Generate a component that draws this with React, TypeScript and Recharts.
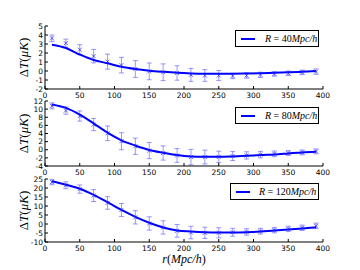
import React from "react";
import { ComposedChart, Line, Scatter, ErrorBar, XAxis, YAxis, Legend } from "recharts";

const radius = [10, 30, 50, 70, 90, 110, 130, 150, 170, 190, 210, 230, 250, 270, 290, 310, 330, 350, 370, 390];

// R = 40 Mpc/h
const obs40 = [3.63, 3.09, 2.37, 1.65, 1.04, 0.65, 0.22, -0.04, -0.14, -0.22, -0.43, -0.5, -0.5, -0.55, -0.5, -0.43, -0.32, -0.25, -0.15, -0.07];
const err40 = [0.37, 0.45, 0.55, 0.75, 0.83, 0.87, 0.93, 0.93, 0.93, 0.8, 0.72, 0.65, 0.55, 0.3, 0.3, 0.3, 0.25, 0.25, 0.25, 0.3];
const model40 = [2.91, 2.55, 1.83, 1.22, 0.86, 0.47, 0.22, 0.04, -0.09, -0.2, -0.27, -0.3, -0.3, -0.3, -0.28, -0.25, -0.2, -0.15, -0.08, 0.0];

// R = 80 Mpc/h
const obs80 = [10.8, 9.65, 8.3, 6.2, 4.05, 2.1, 0.86, -0.2, -0.8, -1.4, -1.8, -1.8, -1.75, -1.55, -1.4, -1.2, -1.0, -0.8, -0.65, -0.4];
const err80 = [0.75, 0.9, 1.25, 1.5, 1.8, 2.1, 2.0, 2.0, 1.75, 1.7, 1.9, 1.7, 1.4, 1.1, 0.9, 0.8, 0.7, 0.6, 0.6, 0.6];
const model80 = [11.15, 10.3, 8.65, 6.5, 4.2, 2.3, 1.03, -0.05, -0.73, -1.3, -1.65, -1.75, -1.75, -1.65, -1.5, -1.3, -1.15, -0.9, -0.65, -0.5];

// R = 120 Mpc/h
const obs120 = [23.3, 21.5, 19.4, 15.8, 11.7, 7.8, 3.7, 0.3, -1.9, -3.8, -4.75, -4.9, -4.9, -4.6, -4.4, -4.0, -3.4, -2.7, -2.1, -1.0];
const err120 = [1.5, 1.9, 2.3, 3.3, 3.5, 3.6, 3.7, 3.7, 3.7, 3.5, 3.5, 3.1, 2.8, 2.2, 1.8, 1.6, 1.5, 1.5, 1.5, 1.5];
const model120 = [23.7, 21.8, 19.6, 16.2, 12.1, 7.8, 4.0, 0.7, -1.9, -3.6, -4.2, -4.6, -4.75, -4.75, -4.6, -4.2, -3.6, -3.1, -2.5, -1.8];

const xTicks = [0, 50, 100, 150, 200, 250, 300, 350, 400];
const yTicks40 = [-2, -1, 0, 1, 2, 3, 4, 5];
const yTicks80 = [-4, -2, 0, 2, 4, 6, 8, 10, 12];
const yTicks120 = [-10, -5, 0, 5, 10, 15, 20, 25];

const TICK_FONT = "'DejaVu Sans', sans-serif";
const MATH_FONT = "'Liberation Serif', serif";

const build = (obs: number[], err: number[], model: number[]) =>
  radius.map((r, i) => ({ r, obs: obs[i], err: err[i], model: model[i] }));

const XMarker = ({ cx, cy }: any) => (
  <g stroke="rgba(40,40,255,0.7)" strokeWidth={1}>
    <line x1={cx - 2} y1={cy - 2} x2={cx + 2} y2={cy + 2} />
    <line x1={cx - 2} y1={cy + 2} x2={cx + 2} y2={cy - 2} />
  </g>
);

const bottomTick = (p: any) => (
  <g>
    <line x1={p.x} y1={p.y} x2={p.x} y2={p.y - 3} stroke="#000" />
    <text x={p.x} y={p.y + 9} textAnchor="middle" fontSize={7.5} fontFamily={TICK_FONT} fill="#000">
      {p.payload.value}
    </text>
  </g>
);
const topTick = (p: any) => <line x1={p.x} y1={p.y} x2={p.x} y2={p.y + 3} stroke="#000" />;
const leftTick = (p: any) => (
  <g>
    <line x1={p.x} y1={p.y} x2={p.x + 3} y2={p.y} stroke="#000" />
    <text x={p.x - 2} y={p.y} dy="0.35em" textAnchor="end" fontSize={7.5} fontFamily={TICK_FONT} fill="#000">
      {p.payload.value}
    </text>
  </g>
);
const rightTick = (p: any) => <line x1={p.x} y1={p.y} x2={p.x - 3} y2={p.y} stroke="#000" />;

const yLabel = (p: any) => {
  const vb = p.viewBox;
  const cx = vb.x + 23;
  const cy = vb.y + vb.height / 2;
  return (
    <text transform={`translate(${cx},${cy}) rotate(-90)`} textAnchor="middle" dominantBaseline="central" fontSize={13} fontFamily={MATH_FONT} fill="#000">
      Δ<tspan fontStyle="italic">T</tspan>(<tspan fontStyle="italic">μK</tspan>)
    </text>
  );
};

const xLabel = (p: any) => {
  const vb = p.viewBox;
  return (
    <text x={vb.x + vb.width / 2} y={vb.y + 20.5} textAnchor="middle" fontSize={12} fontFamily={MATH_FONT} fill="#000">
      <tspan fontStyle="italic">r</tspan>(<tspan fontStyle="italic">Mpc/h</tspan>)
    </text>
  );
};

type PanelProps = {
  top: number;
  height: number;
  marginTop: number;
  axisHeight: number;
  data: any[];
  yTicks: number[];
  radiusLabel: string;
  legendTop: number;
  legendLeft: number;
  legendWidth: number;
  textLeft: number;
  showXLabel?: boolean;
};

function Panel(props: PanelProps) {
  const { data, yTicks } = props;
  const domain: [number, number] = [yTicks[0], yTicks[yTicks.length - 1]];
  const legendContent = () => (
    <div style={{ width: props.legendWidth, height: 17, boxSizing: "border-box", border: "1px solid #000", background: "#fff", position: "relative" }}>
      <div style={{ position: "absolute", left: 5, top: 7, width: 14, height: 2, background: "#0000ff" }} />
      <span style={{ position: "absolute", left: props.textLeft, top: 1, fontFamily: MATH_FONT, fontSize: 10, whiteSpace: "nowrap", lineHeight: "13px" }}>
        <i>R</i> = {props.radiusLabel}<i>Mpc/h</i>
      </span>
    </div>
  );
  return (
    <div style={{ position: "absolute", left: 0, top: props.top }}>
      <ComposedChart width={360} height={props.height} data={data} margin={{ top: props.marginTop, right: 37, bottom: 0, left: 0 }}>
        <XAxis xAxisId="bottom" dataKey="r" type="number" domain={[0, 400]} ticks={xTicks} interval={0}
          height={props.axisHeight} tickSize={0} tickMargin={0} tickLine={false} tick={bottomTick}
          axisLine={{ stroke: "#000" }} label={props.showXLabel ? xLabel : undefined} />
        <XAxis xAxisId="top" orientation="top" dataKey="r" type="number" domain={[0, 400]} ticks={xTicks} interval={0}
          height={0} tickSize={0} tickMargin={0} tickLine={false} tick={topTick} axisLine={{ stroke: "#000" }} />
        <YAxis yAxisId="left" type="number" domain={domain} ticks={yTicks} interval={0} width={45}
          tickSize={0} tickMargin={0} tickLine={false} tick={leftTick} axisLine={{ stroke: "#000" }} label={yLabel} />
        <YAxis yAxisId="right" orientation="right" type="number" domain={domain} ticks={yTicks} interval={0} width={0}
          tickSize={0} tickMargin={0} tickLine={false} tick={rightTick} axisLine={{ stroke: "#000" }} />
        <Scatter xAxisId="bottom" yAxisId="left" dataKey="obs" shape={XMarker} isAnimationActive={false}>
          <ErrorBar dataKey="err" direction="y" width={2.5} stroke="rgba(70,70,255,0.55)" strokeWidth={1} />
        </Scatter>
        <Line xAxisId="bottom" yAxisId="left" dataKey="model" type="monotone" stroke="#0000ff" strokeWidth={2}
          dot={false} activeDot={false} isAnimationActive={false} />
        <Legend layout="horizontal" verticalAlign="middle" align="center" content={legendContent}
          wrapperStyle={{ top: props.legendTop, left: props.legendLeft, width: props.legendWidth, height: 17 }} />
      </ComposedChart>
    </div>
  );
}

export default function App() {
  return (
    <div style={{ position: "absolute", left: 0, top: 0, width: 360, height: 270, background: "#fff", overflow: "hidden" }}>
      <Panel top={0} height={100} marginTop={26} axisHeight={11} data={build(obs40, err40, model40)} yTicks={yTicks40}
        radiusLabel="40" legendTop={30} legendLeft={235} legendWidth={84} textLeft={29} />
      <Panel top={90} height={87} marginTop={11} axisHeight={11} data={build(obs80, err80, model80)} yTicks={yTicks80}
        radiusLabel="80" legendTop={17} legendLeft={235} legendWidth={84} textLeft={29} />
      <Panel top={170} height={100} marginTop={9} axisHeight={28} data={build(obs120, err120, model120)} yTicks={yTicks120}
        radiusLabel="120" legendTop={13} legendLeft={230} legendWidth={89} textLeft={28} showXLabel />
    </div>
  );
}
